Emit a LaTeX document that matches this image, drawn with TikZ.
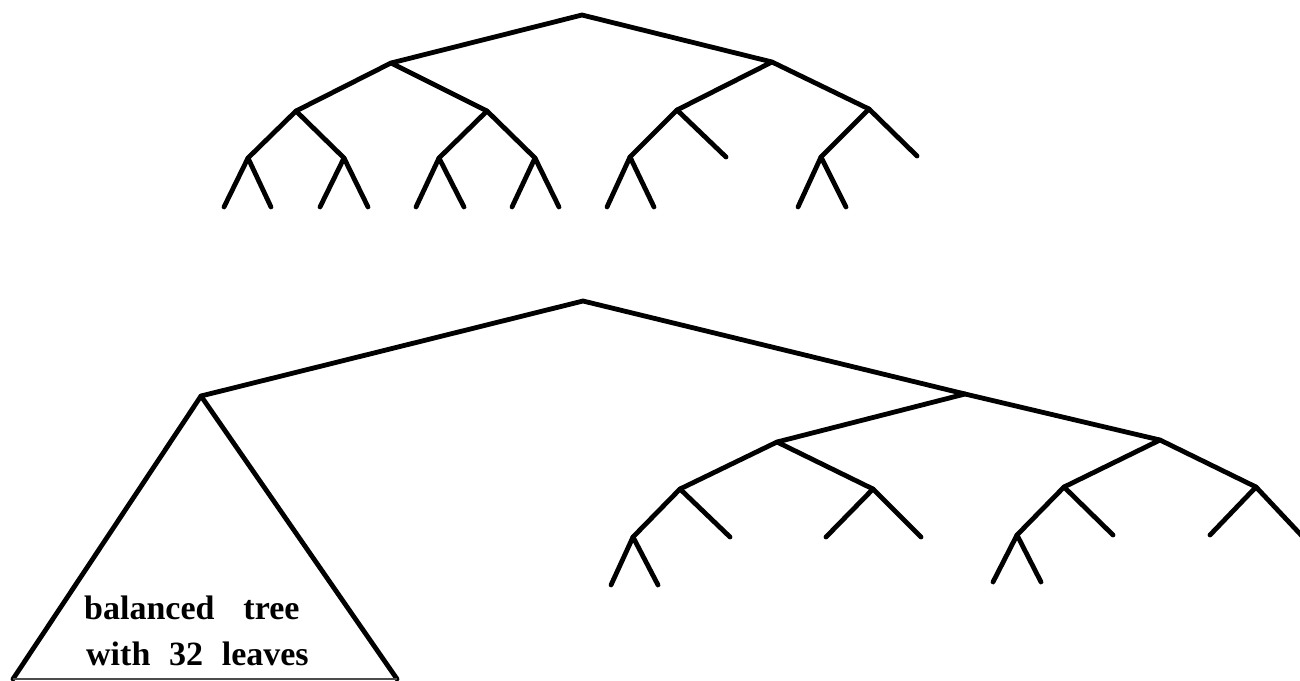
\documentclass[tikz,border=0pt]{standalone}
\usepackage{fontspec}
\setmainfont{Liberation Serif}
\begin{document}
\begin{tikzpicture}[x=1pt,y=-1pt,
  edge/.style={line width=4.8pt,line cap=round,line join=round,black},
  baseedge/.style={line width=1.8pt,black!70},
  lbl/.style={anchor=base west,inner sep=0pt,font=\fontsize{34}{40}\selectfont\bfseries}]
\useasboundingbox[fill=white] (0,0) rectangle (1300,680);
% ---------- upper tree ----------
\coordinate (r) at (582,15);
\coordinate (a) at (391,63);   \coordinate (b) at (772,62);
\coordinate (aa) at (296,111); \coordinate (ab) at (487,111);
\coordinate (ba) at (677,110); \coordinate (bb) at (869,109);
\coordinate (aaa) at (248,158); \coordinate (aab) at (344,158);
\coordinate (aba) at (439,158); \coordinate (abb) at (535,158);
\coordinate (baa) at (630,157); \coordinate (bab) at (726,157);
\coordinate (bba) at (821,157); \coordinate (bbb) at (917,156);
\coordinate (aaa1) at (224,207); \coordinate (aaa2) at (271,207);
\coordinate (aab1) at (320,207); \coordinate (aab2) at (368,207);
\coordinate (aba1) at (416,207); \coordinate (aba2) at (464,207);
\coordinate (abb1) at (512,207); \coordinate (abb2) at (559,207);
\coordinate (baa1) at (607,207); \coordinate (baa2) at (654,207);
\coordinate (bba1) at (798,207); \coordinate (bba2) at (846,207);
\draw[edge] (a) -- (r) -- (b);
\draw[edge] (aa) -- (a) -- (ab);
\draw[edge] (ba) -- (b) -- (bb);
\draw[edge] (aaa) -- (aa) -- (aab);
\draw[edge] (aba) -- (ab) -- (abb);
\draw[edge] (baa) -- (ba) -- (bab);
\draw[edge] (bba) -- (bb) -- (bbb);
\draw[edge] (aaa1) -- (aaa) -- (aaa2);
\draw[edge] (aab1) -- (aab) -- (aab2);
\draw[edge] (aba1) -- (aba) -- (aba2);
\draw[edge] (abb1) -- (abb) -- (abb2);
\draw[edge] (baa1) -- (baa) -- (baa2);
\draw[edge] (bba1) -- (bba) -- (bba2);
% ---------- lower tree ----------
\coordinate (R) at (583,301);
\coordinate (T) at (201,396);  \coordinate (M) at (965,394);
\coordinate (TL) at (13,679);  \coordinate (TR) at (397,679);
\coordinate (P) at (777,442);  \coordinate (Q) at (1160,440);
\coordinate (Pa) at (680,489); \coordinate (Pb) at (873,489);
\coordinate (Qa) at (1064,487); \coordinate (Qb) at (1256,487);
\coordinate (Paa) at (633,537); \coordinate (Pab) at (730,537);
\coordinate (Pb1) at (826,537); \coordinate (Pb2) at (921,537);
\coordinate (Qaa) at (1017,535); \coordinate (Qab) at (1113,535);
\coordinate (Qb1) at (1210,535); \coordinate (Qb2) at (1302,536);
\coordinate (Paa1) at (611,585); \coordinate (Paa2) at (658,585);
\coordinate (Qaa1) at (993,582); \coordinate (Qaa2) at (1041,582);
\draw[edge] (T) -- (R) -- (M);
\draw[edge] (TL) -- (T) -- (TR);
\draw[baseedge] (TL) -- (TR);
\draw[edge] (P) -- (M) -- (Q);
\draw[edge] (Pa) -- (P) -- (Pb);
\draw[edge] (Qa) -- (Q) -- (Qb);
\draw[edge] (Paa) -- (Pa) -- (Pab);
\draw[edge] (Pb1) -- (Pb) -- (Pb2);
\draw[edge] (Qaa) -- (Qa) -- (Qab);
\draw[edge] (Qb1) -- (Qb) -- (Qb2);
\draw[edge] (Paa1) -- (Paa) -- (Paa2);
\draw[edge] (Qaa1) -- (Qaa) -- (Qaa2);
% ---------- label ----------
\node[lbl] (l1) at (84,619) {balanced\hspace{0.85em}tree};
\node[lbl] (l2) at (86,665) {with\hspace{0.55em}32\hspace{0.55em}leaves};
\end{tikzpicture}
\end{document}
